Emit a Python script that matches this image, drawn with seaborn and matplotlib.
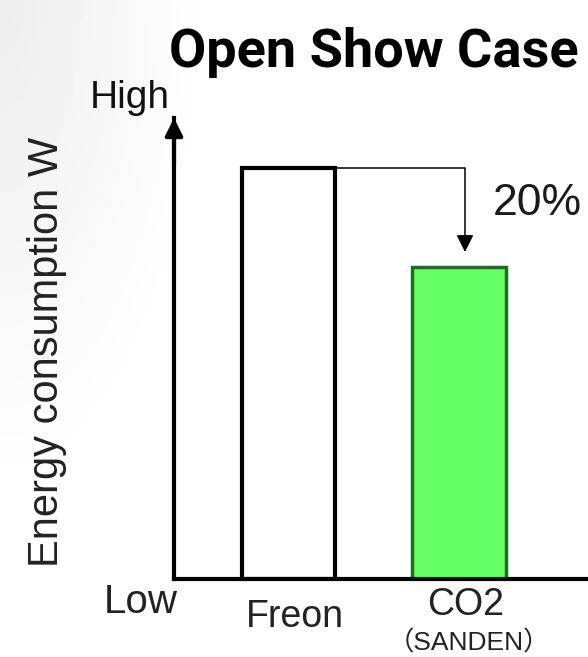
import matplotlib
matplotlib.use("Agg")
import matplotlib.pyplot as plt
import seaborn as sns
import pandas as pd
import numpy as np

sns.set_style("white")
plt.rcParams['font.family'] = ['Liberation Sans', 'Noto Sans CJK JP', 'DejaVu Sans']

# data (relative energy consumption)
categories = ["Freon", "CO2"]
sub_labels = ["", "（SANDEN）"]
values = [100, 76]
fill_colors = ["#ffffff", "#66ff66"]
edge_colors = ["#000000", "#1b701b"]
reduction_label = "20%"

df = pd.DataFrame({"refrigerant": categories, "energy": values})

W, H = 588, 657
fig = plt.figure(figsize=(W / 100, H / 100), dpi=100)

# faint grey shading in the upper left corner of the slide
bg = fig.add_axes([0, 0, 1, 1], zorder=-10)
gx, gy = np.meshgrid(np.linspace(0, 1, 120), np.linspace(0, 1, 130))
shade = np.clip(1 - np.hypot(gx / 0.35, gy / 0.75), 0, 1)
bg.imshow(1 - 0.07 * shade, cmap="gray", vmin=0, vmax=1, aspect="auto",
          extent=[0, 1, 1, 0])
bg.axis("off")

# axes box: y axis at x=174, x axis at y=579, top at the arrow tip
ax = fig.add_axes([174 / W, (H - 579) / H, (W - 174) / W, (579 - 118) / H])

sns.barplot(data=df, x="refrigerant", y="energy", hue="refrigerant",
            palette=fill_colors, saturation=1, width=0.55, legend=False, ax=ax)
for patch, ec, lw in zip(ax.patches, edge_colors, [3.0, 2.5]):
    patch.set_edgecolor(ec)
    patch.set_linewidth(lw)

px = 170.5  # pixels per category step
ax.set_xlim(-(288.5 - 174) / px, (W - 288.5) / px)
ax.set_ylim(0, 100 * (579 - 118) / (579 - 168))
ax.set_xticks([])
ax.set_yticks([])
ax.set_xlabel("")
ax.set_ylabel("")
for side in ["top", "right"]:
    ax.spines[side].set_visible(False)
for side in ["left", "bottom"]:
    ax.spines[side].set_linewidth(3)
    ax.spines[side].set_color("black")
ax.patch.set_alpha(0)

# arrow head on the y axis
ax.annotate("", xy=(0, 1.0), xytext=(0, 0.9), xycoords="axes fraction",
            arrowprops=dict(arrowstyle="-|>", color="black", lw=3,
                            mutation_scale=26, shrinkA=0, shrinkB=0),
            annotation_clip=False)

# reduction arrow from the Freon top down towards CO2
x_turn = (465 - 288.5) / px
y_tip = values[0] * (579 - 252) / (579 - 168)
ax.plot([0.275, x_turn], [values[0], values[0]], color="black", lw=1.1,
        solid_capstyle="butt")
ax.annotate("", xy=(x_turn, y_tip), xytext=(x_turn, values[0]),
            arrowprops=dict(arrowstyle="-|>", color="black", lw=1.1,
                            mutation_scale=26, shrinkA=0, shrinkB=0))
fig.text(493 / W, 1 - 215 / H, reduction_label, fontsize=32, ha="left",
         va="baseline", color="#1a1a1a")

# category labels
fig.text(295 / W, 1 - 617 / H, categories[0], fontsize=27, ha="center",
         va="center", color="#222222")
fig.text(466 / W, 1 - 605 / H, categories[1], fontsize=27, ha="center",
         va="center", color="#222222")
fig.text(469 / W, 1 - 643 / H, sub_labels[1], fontsize=19, ha="center",
         va="center", color="#222222")

# axis end labels
fig.text(141 / W, 1 - 602 / H, "Low", fontsize=29, ha="center", va="center",
         color="#222222")
fig.text(130 / W, 1 - 108 / H, "High", fontsize=28, ha="center",
         va="baseline", color="#111111")
fig.text(47 / W, 1 - 352 / H, "Energy consumption W", rotation=90,
         fontsize=30, ha="center", va="center", color="#222222")

fig.text(374 / W, 1 - 67 / H, "Open Show Case", fontsize=39,
         ha="center", va="baseline", fontweight="semibold", color="black",
         family=['Roboto', 'DejaVu Sans'])

fig.savefig("out.png", dpi=100)
